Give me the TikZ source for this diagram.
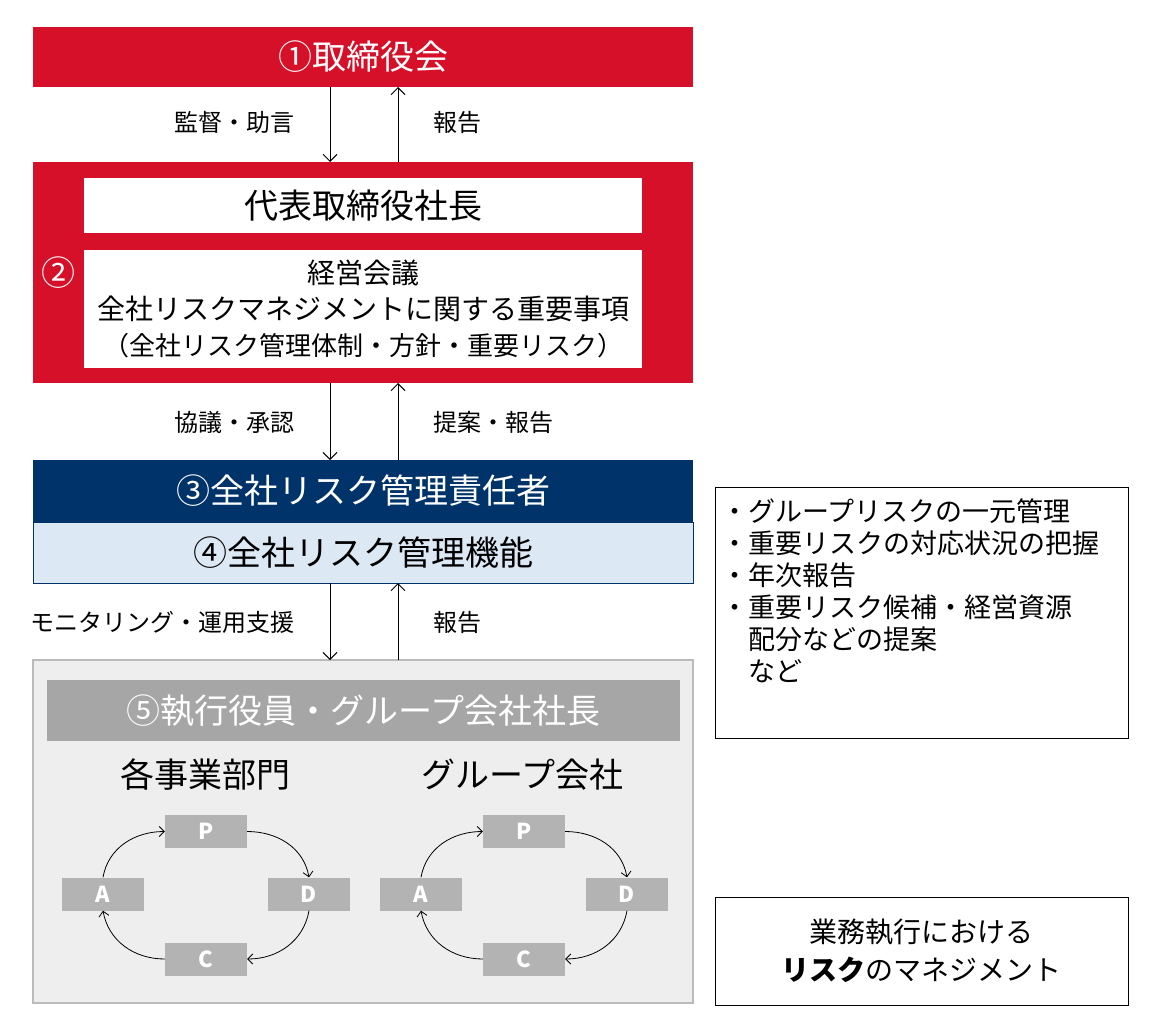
\documentclass[tikz,border=0pt]{standalone}
\usepackage{fontspec}
\setmainfont{Noto Sans CJK JP}
\usetikzlibrary{arrows.meta}
\definecolor{cred}{HTML}{D7102A}
\definecolor{cnavy}{HTML}{003369}
\definecolor{clb}{HTML}{DDE8F5}
\definecolor{cg}{HTML}{EEEEEE}
\definecolor{cgb}{HTML}{BBBBBB}
\definecolor{chd}{HTML}{A6A6A6}
\definecolor{cpd}{HTML}{B3B3B3}
\begin{document}
\begin{tikzpicture}[x=1pt,y=-1pt,
  arr/.style={-{Straight Barb[length=7pt,width=14pt]},line width=1pt},
  lab/.style={font=\fontsize{24}{26}\selectfont},
  big/.style={font=\fontsize{34}{36}\selectfont},
  pd/.style={fill=cpd,text=white,font=\fontsize{22}{24}\selectfont\bfseries,minimum width=82pt,minimum height=33pt,inner sep=0pt},
  carr/.style={-{Straight Barb[length=5pt,width=10pt]},line width=0.8pt}]
\useasboundingbox (0,0) rectangle (1151,1033);
% box1
\node[fill=cred,minimum width=660pt,minimum height=60pt,inner sep=0pt,text=white,big] (b1) at (363,57) {①取締役会};
% box2
\node[fill=cred,minimum width=660pt,minimum height=221pt,inner sep=0pt] (b2) at (363,272.5) {};
\node[fill=white,minimum width=558pt,minimum height=55pt,inner sep=0pt,big] (ceo) at (363,205.5) {代表取締役社長};
\node[fill=white,minimum width=558pt,minimum height=118pt,inner sep=0pt,align=center,font=\fontsize{28}{36}\selectfont] (mtg) at (363,309) {経営会議\\全社リスクマネジメントに関する重要事項\\{\fontsize{26}{30}\selectfont （全社リスク管理体制・方針・重要リスク）}};
\node[text=white,big] (n2) at (58,273) {②};
% box3,4
\node[fill=cnavy,minimum width=660pt,minimum height=62pt,inner sep=0pt,text=white,big] (b3) at (363,491) {③全社リスク管理責任者};
\node[fill=clb,draw=cnavy,line width=1pt,minimum width=660pt,minimum height=61pt,inner sep=0pt,big] (b4) at (363,552.5) {④全社リスク管理機能};
% box5
\node[fill=cg,draw=cgb,line width=1.5pt,minimum width=660pt,minimum height=343pt,inner sep=0pt] (b5) at (363,831.5) {};
\node[fill=chd,minimum width=633pt,minimum height=61pt,inner sep=0pt,text=white,big] (hd) at (363.5,710.5) {⑤執行役員・グループ会社社長};
\node[big] (t1) at (205,775) {各事業部門};
\node[big] (t2) at (522,775) {グループ会社};
% arrows
\coordinate (a1) at (330,87); \coordinate (a1e) at (330,162);
\coordinate (a2) at (398,162); \coordinate (a2e) at (398,87);
\draw[arr] (a1) -- (a1e); \draw[arr] (a2) -- (a2e);
\node[lab,anchor=east] (l1) at (298,122) {監督・助言};
\node[lab,anchor=west] (l2) at (430,122) {報告};
\coordinate (c1) at (330,383); \coordinate (c1e) at (330,460);
\coordinate (c2) at (398,460); \coordinate (c2e) at (398,383);
\draw[arr] (c1) -- (c1e); \draw[arr] (c2) -- (c2e);
\node[lab,anchor=east] (l3) at (298,422) {協議・承認};
\node[lab,anchor=west] (l4) at (430,422) {提案・報告};
\coordinate (d1) at (330,583); \coordinate (d1e) at (330,660);
\coordinate (d2) at (398,660); \coordinate (d2e) at (398,583);
\draw[arr] (d1) -- (d1e); \draw[arr] (d2) -- (d2e);
\node[lab,anchor=east] (l5) at (298,622) {モニタリング・運用支援};
\node[lab,anchor=west] (l6) at (430,622) {報告};
% PDCA
\foreach \o/\s in {0/L,318/R}{
 \node[pd] (P\s) at (206+\o,831.5) {P};
 \node[pd] (D\s) at (309+\o,894) {D};
 \node[pd] (C\s) at (206+\o,959) {C};
 \node[pd] (A\s) at (103+\o,894) {A};
 \draw[carr] (A\s.north) to[out=80,in=180] (P\s.west);
 \draw[carr] (P\s.east) to[out=0,in=100] (D\s.north);
 \draw[carr] (D\s.south) to[out=-100,in=0] (C\s.east);
 \draw[carr] (C\s.west) to[out=180,in=-80] (A\s.south);
}
% right boxes
\node[draw,line width=1pt,minimum width=413pt,minimum height=251pt,inner sep=0pt] (r1) at (921.5,612.5) {};
\node[anchor=north west,align=left,font=\fontsize{27}{32}\selectfont] (r1t) at (718,495) {・グループリスクの一元管理\\・重要リスクの対応状況の把握\\・年次報告\\・重要リスク候補・経営資源\\\hspace{27pt}配分などの提案\\\hspace{27pt}など};
\node[draw,line width=1pt,minimum width=413pt,minimum height=108pt,inner sep=0pt,align=center,font=\fontsize{28}{38}\selectfont] (r2) at (921.5,951) {業務執行における\\{\bfseries リスク}のマネジメント};
\end{tikzpicture}
\end{document}
